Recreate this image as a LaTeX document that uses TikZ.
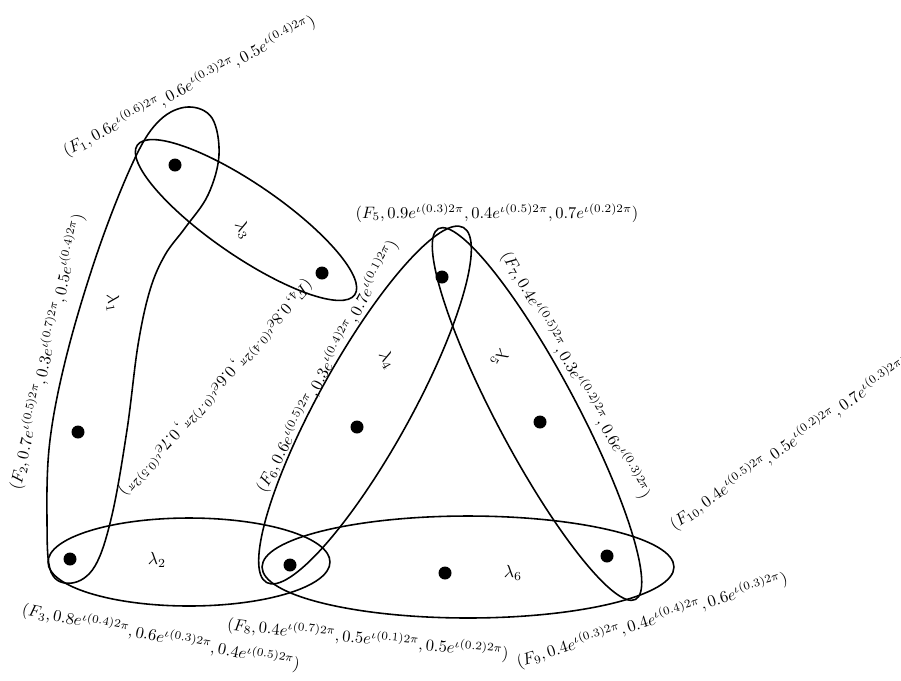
\documentclass[tikz,border=0pt]{standalone}
\usepackage{amsmath,amssymb}
\usepackage{tikz}
\usetikzlibrary{shapes.geometric}
\newcommand{\CExp}[2]{#1e^{\iota(#2)2\pi}}

\begin{document}
\begin{tikzpicture}[x=0.02cm, y=-0.02cm,
  vtx/.style={circle, fill, inner sep=0pt, minimum size=2.6mm},
  hedge/.style={draw, ellipse, line width=0.9pt, inner sep=0pt},
  lam/.style={inner sep=1pt},
  lbl/.style={inner sep=0pt, scale=0.94, transform shape}
]
\useasboundingbox (0,0) rectangle (901,680);

% vertices
\node[vtx] (f1) at (175,165) {};
\node[vtx] (f2) at (78,432) {};
\node[vtx] (f3) at (70,559) {};
\node[vtx] (f4) at (322,273) {};
\node[vtx] (f5) at (442,277) {};
\node[vtx] (f6) at (357,427) {};
\node[vtx] (f7) at (540,422) {};
\node[vtx] (f8) at (290,565) {};
\node[vtx] (f9) at (445,573) {};
\node[vtx] (f10) at (607,556) {};

% hyperedges
\draw[line width=0.9pt] plot[smooth cycle, tension=0.6] coordinates {
  (188,107) (212,118) (219,155) (208,195) (185,228) (165,255) (150,290)
  (138,345) (127,430) (112,515) (95,566) (72,583) (51,572) (47,520)
  (50,440) (68,350) (100,245) (135,158) (160,120)};
\node[hedge, minimum width=5.64cm, minimum height=1.76cm] (e2) at (189,562) {};
\node[hedge, minimum width=5.28cm, minimum height=1.44cm, rotate=-34.5] (e3) at (246,220) {};
\node[hedge, minimum width=8.12cm, minimum height=1.84cm, rotate=61] (e4) at (365,405) {};
\node[hedge, minimum width=8.4cm, minimum height=1.6cm, rotate=-62] (e5) at (537,414) {};
\node[hedge, minimum width=8.24cm, minimum height=2.04cm] (e6) at (468,567) {};

\node[lam, rotate=-80] (l1) at (113,303) {$\lambda_1$};
\node[lam] (l2) at (157,560) {$\lambda_2$};
\node[lam, rotate=-60] (l3) at (243,230) {$\lambda_3$};
\node[lam, rotate=-60] (l4) at (387,360) {$\lambda_4$};
\node[lam, rotate=240] (l5) at (500,358) {$\lambda_5$};
\node[lam] (l6) at (513,573) {$\lambda_6$};

% vertex values
\node[lbl, rotate=27.9] (t1) at (189,86)
  {$(F_1, \CExp{0.6}{0.6}, \CExp{0.6}{0.3}, \CExp{0.5}{0.4})$};
\node[lbl, rotate=77] (t2) at (47,352)
  {$(F_2, \CExp{0.7}{0.5}, \CExp{0.3}{0.7}, \CExp{0.5}{0.4})$};
\node[lbl, rotate=-11.3] (t3) at (161,637)
  {$(F_3, \CExp{0.8}{0.4}, \CExp{0.6}{0.3}, \CExp{0.4}{0.5})$};
\node[lbl, rotate=228.3] (t4) at (216,388)
  {$(F_4, \CExp{0.8}{0.4}, \CExp{0.6}{0.7}, \CExp{0.7}{0.5})$};
\node[lbl] (t5) at (497,213)
  {$(F_5, \CExp{0.9}{0.3}, \CExp{0.4}{0.5}, \CExp{0.7}{0.2})$};
\node[lbl, rotate=61.9] (t6) at (327,366)
  {$(F_6, \CExp{0.6}{0.5}, \CExp{0.3}{0.4}, \CExp{0.7}{0.1})$};
\node[lbl, rotate=-60.1] (t7) at (576,375)
  {$(F_7, \CExp{0.4}{0.5}, \CExp{0.3}{0.2}, \CExp{0.6}{0.3})$};
\node[lbl, rotate=-6] (t8) at (368,639)
  {$(F_8, \CExp{0.4}{0.7}, \CExp{0.5}{0.1}, \CExp{0.5}{0.2})$};
\node[lbl, rotate=17.3] (t9) at (652,620)
  {$(F_9, \CExp{0.4}{0.3}, \CExp{0.4}{0.4}, \CExp{0.6}{0.3})$};
\node[lbl, rotate=35] (t10) at (790,443)
  {$(F_{10}, \CExp{0.4}{0.5}, \CExp{0.5}{0.2}, \CExp{0.7}{0.3})$};
\end{tikzpicture}
\end{document}
